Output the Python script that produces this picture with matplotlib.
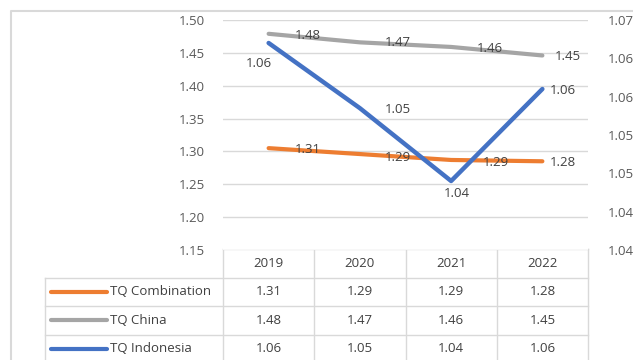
import matplotlib.pyplot as plt
from matplotlib.lines import Line2D
from matplotlib.ticker import FormatStrFormatter
from matplotlib.transforms import blended_transform_factory

# values (the table shows them rounded)
years = ["2019", "2020", "2021", "2022"]
combination = [1.305, 1.296, 1.287, 1.285]
china = [1.479, 1.466, 1.459, 1.446]
indonesia = [1.067, 1.0585, 1.049, 1.061]

# text as printed in the data table / data labels
combination_txt = ["1.31", "1.29", "1.29", "1.28"]
china_txt = ["1.48", "1.47", "1.46", "1.45"]
indonesia_txt = ["1.06", "1.05", "1.04", "1.06"]

series_names = ["TQ Combination", "TQ China", "TQ Indonesia"]
left_ticks = [1.15, 1.20, 1.25, 1.30, 1.35, 1.40, 1.45, 1.50]
right_ticks = [1.040, 1.045, 1.050, 1.055, 1.060, 1.065, 1.070]

ORANGE = "#ED7D31"
GREY = "#A5A5A5"
BLUE = "#4472C4"
GRID = "#D9D9D9"
TXT = "#404040"
TICK = "#595959"

plt.rcParams["font.family"] = ["Open Sans", "DejaVu Sans"]
plt.rcParams["font.size"] = 9.5

W, H = 633, 360
fig = plt.figure(figsize=(W / 100, H / 100), dpi=100)


def fx(px):
    return px / W


def fy(py):
    return 1 - py / H


# plot area: x 223..588, y 20..250 (pixels)
ax = fig.add_axes([fx(223), fy(250), fx(588 - 223), (250 - 20) / H])
ax2 = ax.twinx()

x = list(range(len(years)))
ax.set_xlim(-0.5, len(years) - 0.5)
ax.set_ylim(1.15, 1.50)
ax.set_yticks(left_ticks)
ax.yaxis.set_major_formatter(FormatStrFormatter("%.2f"))
ax.set_xticks([])
ax.grid(axis="y", color=GRID, linewidth=1)
ax.set_axisbelow(True)
ax.tick_params(axis="y", length=0, pad=13, labelcolor=TICK)

ax2.set_ylim(1.04, 1.07)
ax2.set_yticks(right_ticks)
ax2.yaxis.set_major_formatter(FormatStrFormatter("%.2f"))
ax2.tick_params(axis="y", length=0, pad=14, labelcolor=TICK)

for a in (ax, ax2):
    for s in a.spines.values():
        s.set_visible(False)

ax.plot(x, combination, color=ORANGE, lw=3, solid_capstyle="round")
ax.plot(x, china, color=GREY, lw=3, solid_capstyle="round")
ax2.plot(x, indonesia, color=BLUE, lw=3.2, solid_capstyle="round")

# data labels (offsets in pixels: dx to left edge, dy downward)
def label(a, vals, txts, offs):
    for i, (v, t) in enumerate(zip(vals, txts)):
        dx, dy = offs[i]
        a.annotate(t, (i, v), xytext=(dx * 0.72, -dy * 0.72),
                   textcoords="offset points", ha="left", va="center",
                   color=TXT, fontsize=9.5)


label(ax, china, china_txt, [(26, 2), (25, 0), (26, 2), (12, 1)])
label(ax, combination, combination_txt, [(26, 1), (25, 3), (32, 3), (7, 1)])
label(ax2, indonesia, indonesia_txt, [(-23, 20), (25, 1), (-7, 12), (7, 1)])

# data table
tab = fig.add_axes([0, 0, 1, 1], zorder=-1)
tab.set_xlim(0, W)
tab.set_ylim(H, 0)
tab.axis("off")
tr = blended_transform_factory(ax.transData, tab.transData)

head_top, row_h = 249, 28.5
col_edges = [i - 0.5 for i in range(len(years) + 1)]
rows = [combination_txt, china_txt, indonesia_txt]
colors = [ORANGE, GREY, BLUE]

# header row
tab.plot([-0.5, len(years) - 0.5], [head_top, head_top], color=GRID, lw=1, transform=tr)
for e in col_edges:
    tab.plot([e, e], [head_top, H + 5], color=GRID, lw=1, transform=tr)
for i, yr in enumerate(years):
    tab.text(i, head_top + row_h / 2, yr, ha="center", va="center", color=TXT, transform=tr)

# body rows
for r, (name, txts, c) in enumerate(zip(series_names, rows, colors)):
    top = head_top + row_h * (r + 1)
    tab.plot([45, 588], [top, top], color=GRID, lw=1)
    yc = top + row_h / 2
    tab.plot([51, 107], [yc, yc], color=c, lw=3, solid_capstyle="round")
    tab.text(110, yc, name, ha="left", va="center", color=TXT)
    for i, t in enumerate(txts):
        tab.text(i, yc, t, ha="center", va="center", color=TXT, transform=tr)
tab.plot([45, 45], [head_top + row_h, H + 5], color=GRID, lw=1)

# outer chart border (cropped)
tab.plot([11, 11, W + 5], [H + 5, 11, 11], color=GRID, lw=1.5)

fig.savefig("out.png", dpi=100)
